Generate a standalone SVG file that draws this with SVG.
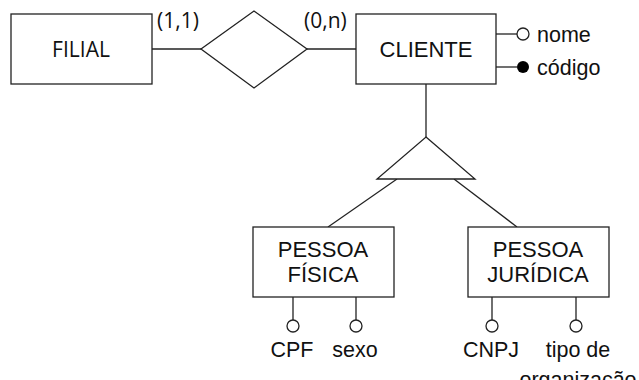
<svg xmlns="http://www.w3.org/2000/svg" width="639" height="380" viewBox="0 0 639 380">
<style>
.box{fill:#fff;stroke:#222;stroke-width:1.3}
.ln{stroke:#222;stroke-width:1.3;fill:none}
.t{font-family:"Liberation Sans",Arial,sans-serif;font-size:22px;fill:#111;text-anchor:middle}
.a{font-family:"Liberation Sans",Arial,sans-serif;font-size:21.5px;fill:#111;text-anchor:middle}
.c{font-family:"Open Sans","DejaVu Sans",sans-serif;font-size:21px;fill:#111}
.att{fill:#fff;stroke:#222;stroke-width:1.3}
</style>
<rect width="639" height="380" fill="#fff"/>
<g id="connectors">
<line class="ln" x1="152" y1="49" x2="201" y2="49"/>
<line class="ln" x1="307" y1="49" x2="356" y2="49"/>
<line class="ln" x1="426" y1="84" x2="426" y2="137"/>
<line class="ln" x1="397" y1="179" x2="328" y2="227"/>
<line class="ln" x1="454" y1="179" x2="517" y2="227"/>
</g>
<g id="filial"><rect class="box" x="11" y="14" width="141" height="70"/><text class="t" x="81" y="57" style="font-family:'Open Sans','DejaVu Sans',sans-serif;font-size:21px">FILIAL</text></g>
<g id="relationship"><polygon class="box" points="201,49 254,11 307,49 254,88"/></g>
<text class="c" x="157" y="28">(1,1)</text>
<text class="c" x="304" y="28">(0,n)</text>
<g id="cliente"><rect class="box" x="356" y="14" width="140" height="70"/><text class="t" x="426" y="57">CLIENTE</text></g>
<g id="attr-nome"><line class="ln" x1="496" y1="34" x2="517" y2="34"/><circle class="att" cx="523" cy="34" r="6"/><text class="a" x="537" y="42" style="text-anchor:start">nome</text></g>
<g id="attr-codigo"><line class="ln" x1="496" y1="67" x2="517" y2="67"/><circle cx="523" cy="67" r="6" fill="#000"/><text class="a" x="537" y="75" style="text-anchor:start">código</text></g>
<g id="specialization"><polygon class="box" points="426,137 475,179 377,179"/></g>
<g id="pessoa-fisica"><rect class="box" x="253" y="227" width="141" height="70"/><text class="t" x="323" y="257">PESSOA</text><text class="t" x="323" y="282">FÍSICA</text></g>
<g id="pessoa-juridica"><rect class="box" x="468" y="227" width="141" height="70"/><text class="t" x="538" y="257">PESSOA</text><text class="t" x="538" y="282">JURÍDICA</text></g>
<g id="attr-cpf"><line class="ln" x1="293" y1="297" x2="293" y2="320"/><circle class="att" cx="293" cy="326" r="6"/><text class="a" x="292" y="357">CPF</text></g>
<g id="attr-sexo"><line class="ln" x1="356" y1="297" x2="356" y2="320"/><circle class="att" cx="356" cy="326" r="6"/><text class="a" x="355" y="357">sexo</text></g>
<g id="attr-cnpj"><line class="ln" x1="492" y1="297" x2="492" y2="320"/><circle class="att" cx="492" cy="326" r="6"/><text class="a" x="491" y="357">CNPJ</text></g>
<g id="attr-tipo"><line class="ln" x1="576" y1="297" x2="576" y2="320"/><circle class="att" cx="576" cy="326" r="6"/><text class="a" x="578" y="357">tipo de</text><text class="a" x="578" y="387">organização</text></g>
</svg>
